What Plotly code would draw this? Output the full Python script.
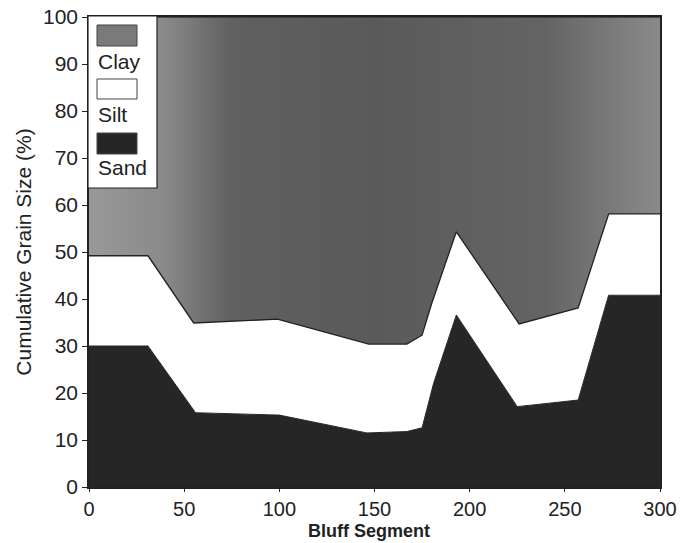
import plotly.graph_objects as go

# Data (cumulative boundaries, %)
sand_x = [0, 31, 56, 100, 146, 167, 175, 181, 193, 225, 257, 273, 300]
sand_top = [30, 30, 15.8, 15.3, 11.5, 11.8, 12.6, 22, 36.6, 17.1, 18.5, 40.8, 40.8]
silt_x = [0, 31, 55, 99, 147, 167, 175, 180, 193, 226, 257, 273, 300]
silt_top = [49.2, 49.2, 34.9, 35.7, 30.4, 30.4, 32.3, 39, 54.3, 34.7, 38.1, 58.1, 58.1]
clay_x = [0, 300]
clay_top = [100, 100]
legend_names = ["Clay", "Silt", "Sand"]
x_title = "Bluff Segment"
y_title = "Cumulative Grain Size (%)"

FONT = "Liberation Sans, Arial, sans-serif"
SAND = "#262626"
CLAY = "#7a7a7a"

fig = go.Figure()
fig.add_trace(go.Scatter(x=sand_x, y=sand_top, mode="lines", fill="tozeroy",
                         line=dict(color=SAND, width=1), fillcolor=SAND,
                         showlegend=False, hoverinfo="skip"))
fig.add_trace(go.Scatter(x=silt_x, y=silt_top, mode="lines", fill="tonexty",
                         line=dict(color="#222222", width=1.3), fillcolor="white",
                         showlegend=False, hoverinfo="skip"))
fig.add_trace(go.Scatter(x=clay_x, y=clay_top, mode="lines", fill="tonexty",
                         line=dict(color="#333333", width=1.5),
                         fillgradient=dict(type="horizontal",
                                           colorscale=[[0, "#999999"], [0.13, "#8a8a8a"], [0.25, "#606060"],
                                                       [0.5, "#5a5a5a"], [0.8, "#646464"],
                                                       [1, "#8a8a8a"]]),
                         showlegend=False, hoverinfo="skip"))

# custom legend (swatch above label)
W, H = 571.0, 470.0
def px(xp): return (xp - 89) / W
def py(yp): return (487 - yp) / H

shapes = [dict(type="rect", xref="paper", yref="paper", x0=px(88), x1=px(157),
               y0=py(188), y1=py(16), fillcolor="white", line=dict(color="#222", width=1.2))]
sw_cols = [CLAY, "white", SAND]
sw_y = [(25, 46), (79, 99), (133, 154)]
txt_y = [61, 115, 168]
annotations = []
for name, col, (a, b), ty in zip(legend_names, sw_cols, sw_y, txt_y):
    shapes.append(dict(type="rect", xref="paper", yref="paper", x0=px(97), x1=px(137),
                       y0=py(b), y1=py(a), fillcolor=col, line=dict(color="#444", width=1)))
    annotations.append(dict(text=name, xref="paper", yref="paper", x=px(96), y=py(ty),
                            xanchor="left", yanchor="middle", showarrow=False,
                            font=dict(family=FONT, size=21, color="#222")))

annotations.append(dict(text="<b>" + x_title + "</b>", xref="paper", yref="paper",
                        x=px(369), y=py(531), xanchor="center", yanchor="middle",
                        showarrow=False, font=dict(family=FONT, size=18, color="#222")))

fig.update_layout(
    width=684, height=543,
    margin=dict(l=89, r=24, t=17, b=56),
    paper_bgcolor="white", plot_bgcolor="white",
    font=dict(family=FONT, color="#222"),
    shapes=shapes, annotations=annotations,
    showlegend=False,
)
fig.update_xaxes(range=[0, 300], tickvals=[0, 50, 100, 150, 200, 250, 300],
                 ticks="outside", ticklen=3, tickcolor="#222", showgrid=False, zeroline=False,
                 showline=True, linecolor="#222", linewidth=1.5, mirror=True, automargin=False,
                 tickfont=dict(size=20, family=FONT))
fig.update_yaxes(range=[0, 100], tickvals=list(range(0, 101, 10)),
                 ticks="outside", ticklen=5, tickcolor="#222", showgrid=False, zeroline=False,
                 showline=True, linecolor="#222", linewidth=1.5, mirror=True, automargin=False,
                 tickfont=dict(size=21, family=FONT),
                 title=dict(text=y_title, font=dict(size=21, family=FONT), standoff=6))

fig.write_html("out.html")
